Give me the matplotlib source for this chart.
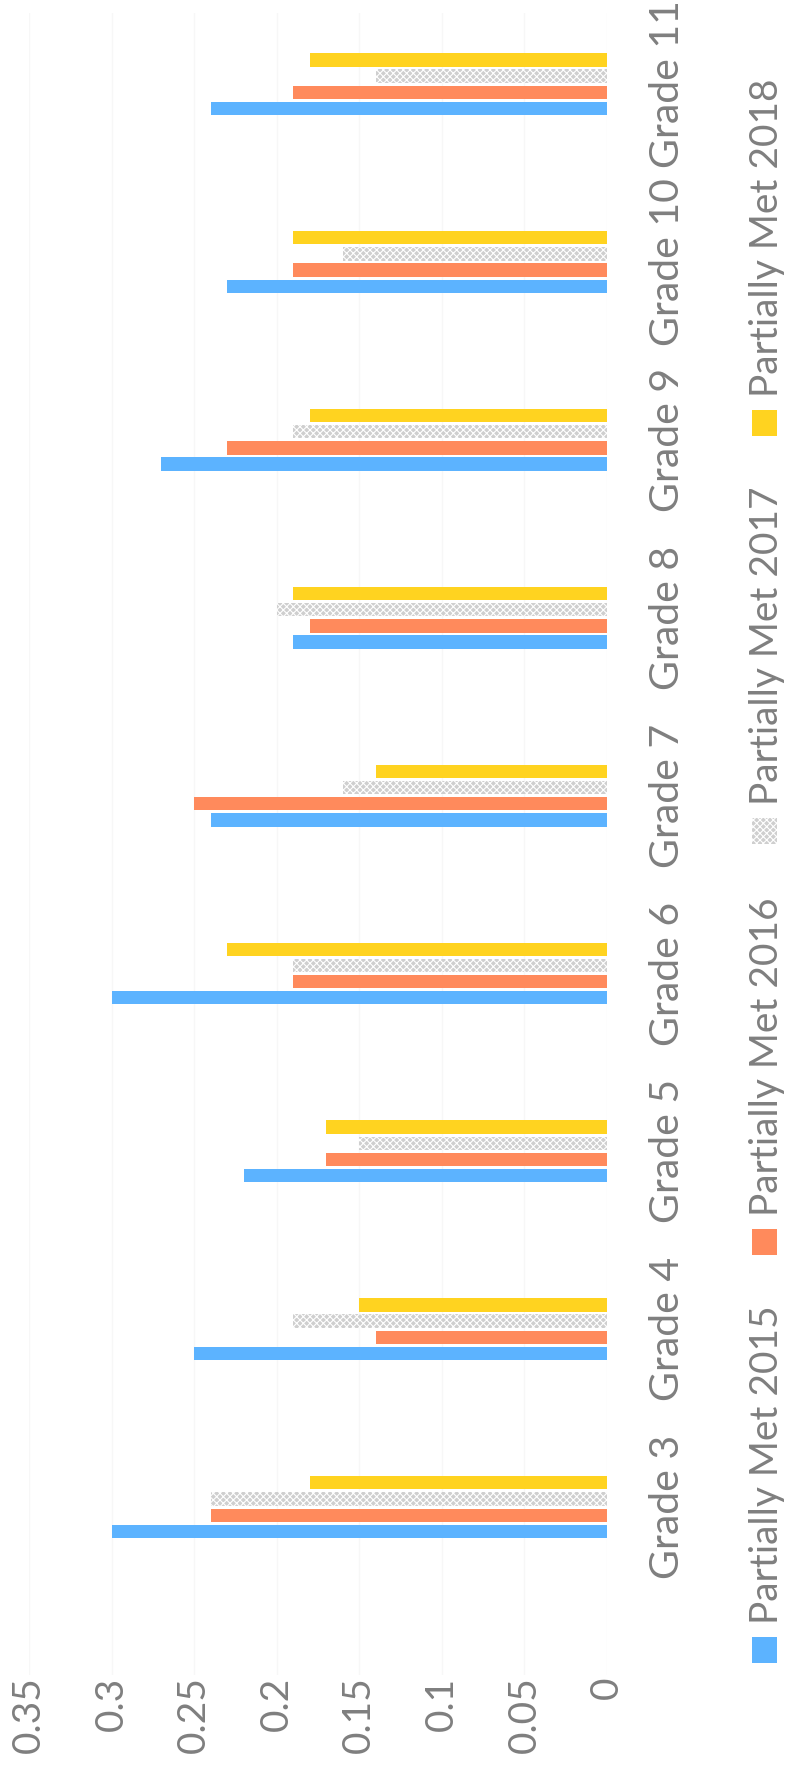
import matplotlib.pyplot as plt
from matplotlib.patches import Rectangle
import numpy as np

plt.rcParams['font.family'] = ['Lato', 'DejaVu Sans']
plt.rcParams['hatch.linewidth'] = 0.8

##### DATA #####
grades = ["Grade 3", "Grade 4", "Grade 5", "Grade 6", "Grade 7",
          "Grade 8", "Grade 9", "Grade 10", "Grade 11"]
met_2015 = [0.30, 0.25, 0.22, 0.30, 0.24, 0.19, 0.27, 0.23, 0.24]
met_2016 = [0.24, 0.14, 0.17, 0.19, 0.25, 0.18, 0.23, 0.19, 0.19]
met_2017 = [0.24, 0.19, 0.15, 0.19, 0.16, 0.20, 0.19, 0.16, 0.14]
met_2018 = [0.18, 0.15, 0.17, 0.23, 0.14, 0.19, 0.18, 0.19, 0.18]
series_names = ["Partially Met 2015", "Partially Met 2016",
                "Partially Met 2017", "Partially Met 2018"]
value_ticks = [0, 0.05, 0.1, 0.15, 0.2, 0.25, 0.3, 0.35]
value_labels = ["0", "0.05", "0.1", "0.15", "0.2", "0.25", "0.3", "0.35"]
################

colors = ["#5cb3ff", "#ff8a5c", "#cfcfcf", "#ffd320"]
text_color = "#7f7f7f"
W, H = 790, 1775

fig = plt.figure(figsize=(W / 100, H / 100), dpi=100)
# chart is drawn turned on its side: values run right -> left
ax = fig.add_axes([29 / W, 100 / H, (607 - 29) / W, 1662 / H])

y = np.arange(len(grades))
slot = 0.091
height = 0.075
all_series = [met_2015, met_2016, met_2017, met_2018]
for k, vals in enumerate(all_series):
    offs = (k - 1.5) * slot
    if k == 2:
        # scanned light grey fill looks speckled
        ax.barh(y + offs, vals, height=height, color=colors[k],
                hatch="xxxxx", edgecolor="white", linewidth=0, zorder=3)
    else:
        ax.barh(y + offs, vals, height=height, color=colors[k],
                linewidth=0, zorder=3)

ax.set_xlim(0.35, 0)
ax.set_ylim(-0.944, 8.4)
ax.set_xticks(value_ticks)
ax.set_xticklabels(value_labels, rotation=90, fontsize=28, color=text_color)
ax.set_yticks(y)
ax.set_yticklabels(grades, rotation=90, va="center", fontsize=29.5, color=text_color)
ax.yaxis.tick_right()
ax.tick_params(axis="x", length=0, pad=1)
ax.tick_params(axis="y", length=0, pad=30)
ax.grid(axis="x", color="#f7f7f7", linewidth=1, zorder=0)
for s in ax.spines.values():
    s.set_visible(False)

# legend, also turned on its side (right edge of the picture)
sq_top = [1637, 1229, 818, 410]
for k, name in enumerate(series_names):
    top = sq_top[k]
    fig.patches.append(Rectangle((752 / W, (H - top - 26) / H), 25 / W, 26 / H,
                                 transform=fig.transFigure, facecolor=colors[k],
                                 hatch="xxxxx" if k == 2 else None,
                                 edgecolor="white" if k == 2 else colors[k],
                                 linewidth=0))
    fig.text(778 / W, (H - top + 13) / H, name, rotation=90,
             rotation_mode="anchor", ha="left", va="baseline",
             fontsize=28, color=text_color)

plt.savefig("out.png", dpi=100)
plt.close()
